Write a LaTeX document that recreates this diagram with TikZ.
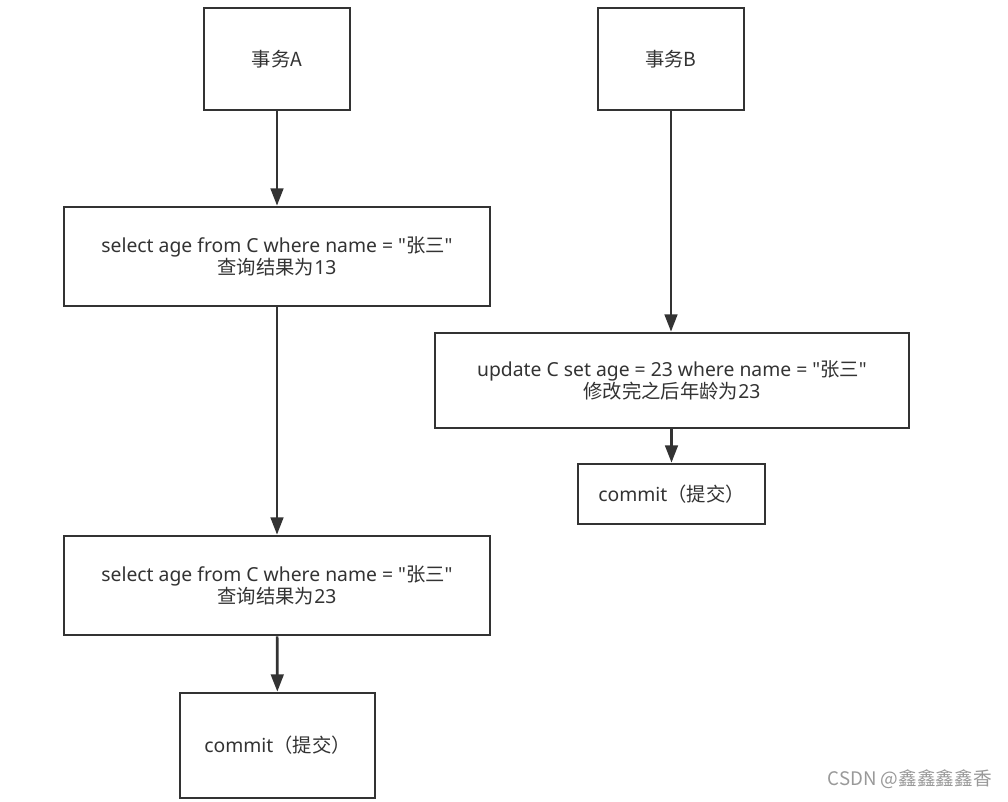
\documentclass[tikz,border=0pt]{standalone}
\usepackage{fontspec}
\newfontfamily\lat{Noto Sans}
\newfontfamily\cjk{Noto Sans CJK SC}
\usetikzlibrary{arrows.meta}
\definecolor{ink}{HTML}{333333}
\newcommand{\zh}[1]{{\fontsize{14.5}{17}\selectfont\cjk #1}}
\tikzset{
  box/.style={draw=ink, line width=2pt, rectangle, inner sep=0pt, align=center,
    text=ink, font=\fontsize{14.5}{17}\selectfont\lat},
  flow/.style={draw=ink, line width=2pt, -{Triangle[length=13pt,width=9.5pt]}},
}
\begin{document}
\begin{tikzpicture}[x=0.75pt,y=-0.75pt]
\useasboundingbox (0,0) rectangle (1008,802);
\fill[white] (0,0) rectangle (1008,802);
\node[box, minimum width=109.5pt, minimum height=76.5pt] (ta) at (277,59) {\zh{事务A}};
\node[box, minimum width=109.5pt, minimum height=76.5pt] (tb) at (671,59) {\zh{事务B}};
\node[box, minimum width=319.5pt, minimum height=74.25pt] (a1) at (277,256.5) {select age from C where name = "\zh{张三}"\\\zh{查询结果为}13};
\node[box, minimum width=319.5pt, minimum height=74.25pt] (a2) at (277,585.5) {select age from C where name = "\zh{张三}"\\\zh{查询结果为}23};
\node[box, minimum width=146.25pt, minimum height=78.75pt] (ca) at (277.5,745.5) {commit\zh{（提交）}};
\node[box, minimum width=355.5pt, minimum height=71.25pt] (b1) at (672,380.5) {update C set age = 23 where name = "\zh{张三}"\\\zh{修改完之后年龄为}23};
\node[box, minimum width=140.25pt, minimum height=45pt] (cb) at (671.5,494) {commit\zh{（提交）}};
\draw[flow] (ta) -- (a1);
\draw[flow] (a1) -- (a2);
\draw[flow] (a2) -- (ca);
\draw[flow] (tb.south) -- (tb.south |- b1.north);
\draw[flow] (b1.south -| cb.north) -- (cb.north);
\node[text=gray!80, font=\fontsize{14}{16}\selectfont\cjk, anchor=east, inner sep=0pt] (wm) at (992,779) {CSDN @鑫鑫鑫鑫香};
\end{tikzpicture}
\end{document}
